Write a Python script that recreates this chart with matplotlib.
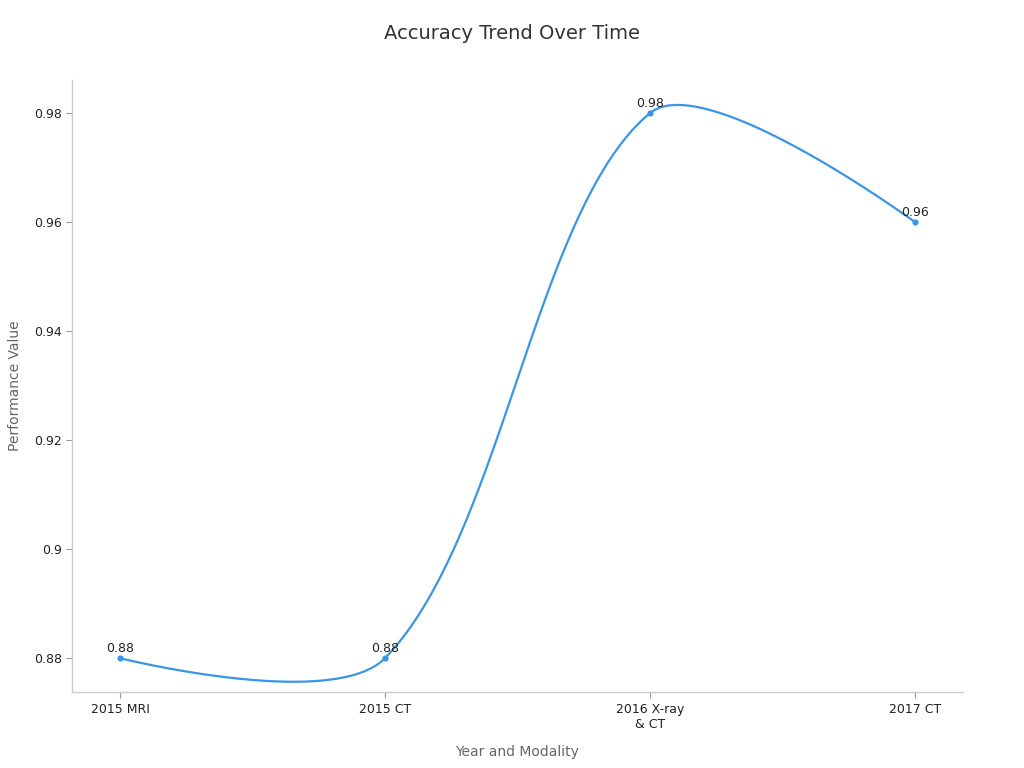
import matplotlib
matplotlib.use("Agg")
import matplotlib.pyplot as plt
import numpy as np

# data
categories = ["2015 MRI", "2015 CT", "2016 X-ray\n& CT", "2017 CT"]
values = [0.88, 0.88, 0.98, 0.96]
yticks = [0.88, 0.90, 0.92, 0.94, 0.96, 0.98]
ytick_labels = ["0.88", "0.9", "0.92", "0.94", "0.96", "0.98"]

line_color = "#3a95e6"
grey = "#666666"


def smooth_path(pts, s=0.32, n=80):
    # bezier smoothing in screen space: control points along (next - prev)
    pts = np.asarray(pts, float)
    k = len(pts)
    cin = np.zeros_like(pts)
    cout = np.zeros_like(pts)
    for i in range(1, k - 1):
        v = pts[i + 1] - pts[i - 1]
        d0 = np.hypot(*(pts[i] - pts[i - 1]))
        d1 = np.hypot(*(pts[i + 1] - pts[i]))
        cin[i] = v * s * d0 / (d0 + d1)
        cout[i] = v * s * d1 / (d0 + d1)
    out = []
    t = np.linspace(0, 1, n)[:, None]
    for i in range(k - 1):
        p0, p3 = pts[i], pts[i + 1]
        p1 = p0 + cout[i]
        p2 = p3 - cin[i + 1]
        out.append((1 - t)**3 * p0 + 3 * (1 - t)**2 * t * p1
                   + 3 * (1 - t) * t**2 * p2 + t**3 * p3)
    return np.vstack(out)


fig = plt.figure(figsize=(10.24, 7.68), dpi=100)
ax = fig.add_axes([0.0703, 0.099, 0.8701, 0.797])

xpos = np.arange(len(categories))
ax.set_xlim(-0.181, 3.181)
ax.set_ylim(0.8738, 0.9861)

# smooth the line in pixel space, then map back to data coords
disp = ax.transData.transform(np.column_stack([xpos, values]))
curve = ax.transData.inverted().transform(smooth_path(disp))
ax.plot(curve[:, 0], curve[:, 1], color=line_color, linewidth=1.6)
ax.scatter(xpos, values, color=line_color, s=12, zorder=3)

for x, v in zip(xpos, values):
    ax.annotate(f"{v:.2f}", (x, v), xytext=(0, 2.5), textcoords="offset points",
                ha="center", va="bottom", fontsize=9, color="#222222")

ax.set_xticks(xpos)
ax.set_xticklabels(categories)
ax.set_yticks(yticks)
ax.set_yticklabels(ytick_labels)

for side in ["top", "right"]:
    ax.spines[side].set_visible(False)
for side in ["left", "bottom"]:
    ax.spines[side].set_color("#cccccc")
    ax.spines[side].set_linewidth(1)

ax.tick_params(axis="both", colors="#999999", labelcolor="#222222",
               labelsize=9, length=4, pad=4)
ax.tick_params(axis="y", pad=3)

ax.set_xlabel("Year and Modality", fontsize=10, color=grey, labelpad=10)
ax.set_ylabel("Performance Value", fontsize=10, color=grey, labelpad=9)
fig.text(0.5, 0.957, "Accuracy Trend Over Time", ha="center", va="center",
         fontsize=14, color="#333333")

fig.savefig("out.png", dpi=100)
